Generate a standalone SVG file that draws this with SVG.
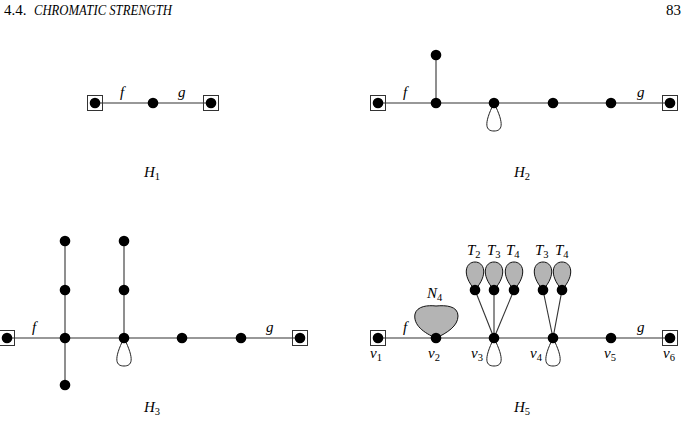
<svg xmlns="http://www.w3.org/2000/svg" width="686" height="422" viewBox="0 0 686 422">
<style>
.e{stroke:#333;stroke-width:1.1;fill:none}
.lp{stroke:#222;stroke-width:1;fill:none}
.v{fill:#000}
.sq{fill:none;stroke:#333;stroke-width:1}
.lb{fill:#b4b4b4;stroke:#111;stroke-width:1}
.t{font-family:"Liberation Serif",serif;font-style:italic;font-size:15px;fill:#000}
.s{font-family:"Liberation Serif",serif;font-style:normal;font-size:10.5px;fill:#000}
.h{font-family:"Liberation Serif",serif;font-size:15px;fill:#000}
</style>
<defs>
<circle id="n" r="5.3" class="v"/>
<rect id="b" x="-7.5" y="-7.5" width="15" height="15" class="sq"/>
<path id="loop" d="M0,0 C-11,22 -8,28 0,28 C8,28 11,22 0,0" class="lp"/>
<path id="lobe" d="M0,0 C-14,-16 -9,-28 0,-28 C9,-28 14,-16 0,0 Z" class="lb"/>
</defs>
<text class="h" x="4" y="15"><tspan>4.4.</tspan><tspan x="34" font-style="italic" textLength="138" lengthAdjust="spacingAndGlyphs">CHROMATIC STRENGTH</tspan></text>
<text class="h" x="666" y="15">83</text>

<g id="connectors">
<line class="e" x1="95" y1="103" x2="211" y2="103"/>
<line class="e" x1="378" y1="103" x2="670" y2="103"/>
<line class="e" x1="436" y1="55" x2="436" y2="103"/>
<line class="e" x1="7" y1="338" x2="300" y2="338"/>
<line class="e" x1="65" y1="241" x2="65" y2="385"/>
<line class="e" x1="124" y1="241" x2="124" y2="338"/>
<line class="e" x1="378" y1="338" x2="670" y2="338"/>
<line class="e" x1="494" y1="338" x2="475" y2="290"/>
<line class="e" x1="494" y1="338" x2="494" y2="290"/>
<line class="e" x1="494" y1="338" x2="514" y2="290"/>
<line class="e" x1="553" y1="338" x2="543" y2="290"/>
<line class="e" x1="553" y1="338" x2="562" y2="290"/>
<use href="#loop" x="494" y="103"/>
<use href="#loop" x="124" y="338"/>
<use href="#loop" x="494" y="338"/>
<use href="#loop" x="553" y="338"/>
</g>

<g id="H1">
<use href="#b" x="95" y="103"/><use href="#n" x="95" y="103"/>
<use href="#n" x="153" y="103"/>
<use href="#b" x="211" y="103"/><use href="#n" x="211" y="103"/>
<text class="t" x="120" y="97">f</text>
<text class="t" x="178" y="97">g</text>
<text class="t" x="144" y="177">H<tspan class="s" dy="3">1</tspan></text>
</g>

<g id="H2">
<use href="#b" x="378" y="103"/><use href="#n" x="378" y="103"/>
<use href="#n" x="436" y="55"/>
<use href="#n" x="436" y="103"/>
<use href="#n" x="494" y="103"/>
<use href="#n" x="553" y="103"/>
<use href="#n" x="611" y="103"/>
<use href="#b" x="670" y="103"/><use href="#n" x="670" y="103"/>
<text class="t" x="403" y="97">f</text>
<text class="t" x="637" y="97">g</text>
<text class="t" x="514" y="177">H<tspan class="s" dy="3">2</tspan></text>
</g>

<g id="H3">
<use href="#b" x="7" y="338"/><use href="#n" x="7" y="338"/>
<use href="#n" x="65" y="241"/>
<use href="#n" x="65" y="290"/>
<use href="#n" x="65" y="338"/>
<use href="#n" x="65" y="385"/>
<use href="#n" x="124" y="241"/>
<use href="#n" x="124" y="290"/>
<use href="#n" x="124" y="338"/>
<use href="#n" x="182" y="338"/>
<use href="#n" x="241" y="338"/>
<use href="#b" x="300" y="338"/><use href="#n" x="300" y="338"/>
<text class="t" x="32" y="332">f</text>
<text class="t" x="266" y="332">g</text>
<text class="t" x="144" y="412">H<tspan class="s" dy="3">3</tspan></text>
</g>

<g id="H5">
<path class="lb" d="M436,338 C424,333 413,325 415,314 C417,306 428,305 436,306 C446,305 458,306 458,316 C458,326 447,333 436,338 Z"/>
<use href="#lobe" x="475" y="290"/>
<use href="#lobe" x="494" y="290"/>
<use href="#lobe" x="514" y="290"/>
<use href="#lobe" x="543" y="290"/>
<use href="#lobe" x="562" y="290"/>
<use href="#b" x="378" y="338"/><use href="#n" x="378" y="338"/>
<use href="#n" x="436" y="338"/>
<use href="#n" x="494" y="338"/>
<use href="#n" x="553" y="338"/>
<use href="#n" x="611" y="338"/>
<use href="#b" x="670" y="338"/><use href="#n" x="670" y="338"/>
<use href="#n" x="475" y="290"/>
<use href="#n" x="494" y="290"/>
<use href="#n" x="514" y="290"/>
<use href="#n" x="543" y="290"/>
<use href="#n" x="562" y="290"/>
<text class="t" x="403" y="332">f</text>
<text class="t" x="637" y="332">g</text>
<text class="t" x="427" y="298">N<tspan class="s" dy="3">4</tspan></text>
<text class="t" x="467" y="255">T<tspan class="s" dy="3">2</tspan></text>
<text class="t" x="487" y="255">T<tspan class="s" dy="3">3</tspan></text>
<text class="t" x="506" y="255">T<tspan class="s" dy="3">4</tspan></text>
<text class="t" x="535" y="255">T<tspan class="s" dy="3">3</tspan></text>
<text class="t" x="555" y="255">T<tspan class="s" dy="3">4</tspan></text>
<text class="t" x="370" y="358">v<tspan class="s" dy="3">1</tspan></text>
<text class="t" x="428" y="358">v<tspan class="s" dy="3">2</tspan></text>
<text class="t" x="471" y="358">v<tspan class="s" dy="3">3</tspan></text>
<text class="t" x="530" y="358">v<tspan class="s" dy="3">4</tspan></text>
<text class="t" x="604" y="358">v<tspan class="s" dy="3">5</tspan></text>
<text class="t" x="663" y="358">v<tspan class="s" dy="3">6</tspan></text>
<text class="t" x="514" y="412">H<tspan class="s" dy="3">5</tspan></text>
</g>
</svg>
